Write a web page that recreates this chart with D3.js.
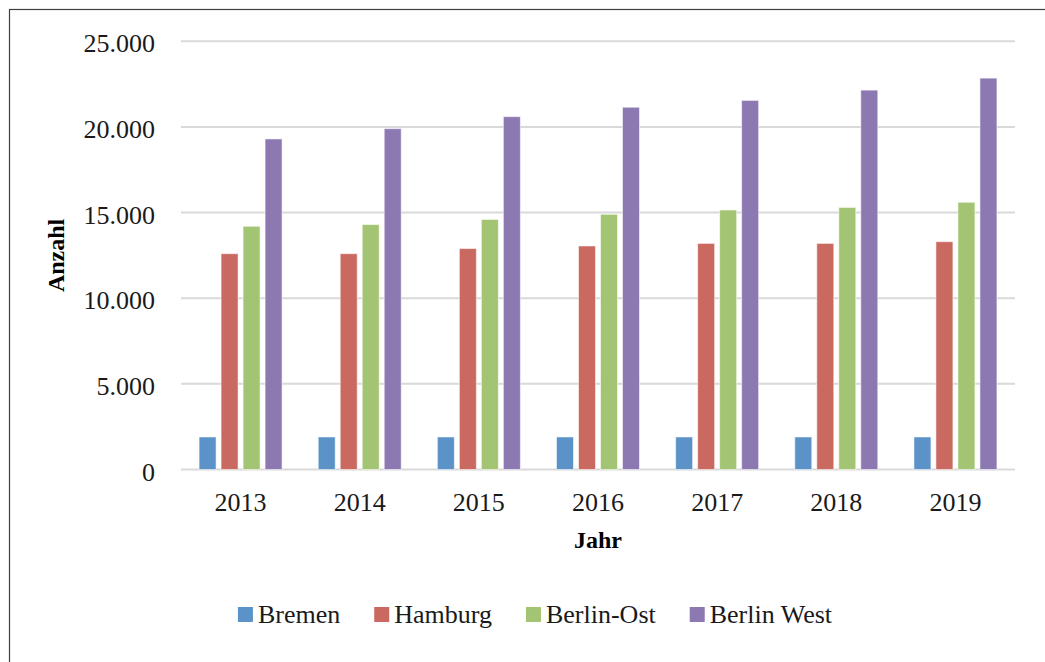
<!DOCTYPE html>
<html lang="de">
<head>
<meta charset="utf-8">
<title>Anzahl nach Jahr</title>
<script src="https://cdn.jsdelivr.net/npm/d3@7"></script>
<style>
  html, body { margin: 0; padding: 0; background: #fff; }
  svg { display: block; font-family: "Liberation Serif", "Times New Roman", serif; }
</style>
</head>
<body>
<svg id="chart" width="1045" height="662"></svg>
<script>
// Jahre auf der x-Achse
const years = ["2013", "2014", "2015", "2016", "2017", "2018", "2019"];
// Reihen
const seriesNames = ["Bremen", "Hamburg", "Berlin-Ost", "Berlin West"];
const bremen     = [1900, 1900, 1900, 1900, 1900, 1900, 1900];
const hamburg    = [12600, 12600, 12900, 13050, 13200, 13200, 13300];
const berlinOst  = [14200, 14300, 14600, 14900, 15150, 15300, 15600];
const berlinWest = [19300, 19900, 20600, 21150, 21550, 22150, 22850];
// Beschriftung der y-Achse
const yTicks = [0, 5000, 10000, 15000, 20000, 25000];
const yTickLabels = ["0", "5.000", "10.000", "15.000", "20.000", "25.000"];
const seriesColors = ["#5b93c8", "#c9695f", "#a3c472", "#8c79b2"];

const seriesValues = [bremen, hamburg, berlinOst, berlinWest];
const rows = years.map((yr, i) => ({
  year: yr,
  values: seriesNames.map((name, s) => ({ name, value: seriesValues[s][i] }))
}));

const svg = d3.select("#chart");

// Rahmen des Diagrammbereichs
svg.append("rect")
  .attr("x", 9.5).attr("y", 9.5)
  .attr("width", 1100).attr("height", 700)
  .attr("fill", "none")
  .attr("stroke", "#404040")
  .attr("stroke-width", 1.2);

const plot = { left: 181, right: 1015, top: 41.3, bottom: 469.5 };

const y = d3.scaleLinear().domain([0, 25000]).range([plot.bottom, plot.top]);
const x0 = d3.scaleBand().domain(years).range([plot.left, plot.right]).padding(0);
const groupWidth = 88;
const x1 = d3.scaleBand().domain(seriesNames).range([0, groupWidth])
  .paddingInner(5 / 22).paddingOuter(2.5 / 22);
const color = d3.scaleOrdinal().domain(seriesNames).range(seriesColors);

// Gitterlinien
svg.append("g")
  .selectAll("line")
  .data(yTicks)
  .join("line")
  .attr("x1", plot.left).attr("x2", plot.right)
  .attr("y1", d => y(d)).attr("y2", d => y(d))
  .attr("stroke", "#d9d9d9")
  .attr("stroke-width", 2);

// y-Achse (Beschriftung)
const yAxis = d3.axisLeft(y).tickValues(yTicks)
  .tickFormat((d, i) => yTickLabels[i]).tickSize(0).tickPadding(0);
const gy = svg.append("g").attr("transform", "translate(155,0)").call(yAxis);
gy.select(".domain").remove();
gy.selectAll("text")
  .attr("font-family", "Liberation Serif, serif")
  .attr("font-size", 26)
  .attr("fill", "#1a1a1a")
  .attr("dy", 10.5);

// x-Achse (Beschriftung)
const xAxis = d3.axisBottom(x0).tickSize(0).tickPadding(0);
const gx = svg.append("g").attr("transform", `translate(0,${plot.bottom})`).call(xAxis);
gx.select(".domain").remove();
gx.selectAll("text")
  .attr("font-family", "Liberation Serif, serif")
  .attr("font-size", 26)
  .attr("fill", "#1a1a1a")
  .attr("y", 41.5)
  .attr("dy", 0);

// Balken
const groups = svg.append("g")
  .selectAll("g")
  .data(rows)
  .join("g")
  .attr("transform", d => `translate(${x0(d.year) + (x0.bandwidth() - groupWidth) / 2},0)`);

groups.selectAll("rect")
  .data(d => d.values)
  .join("rect")
  .attr("x", d => x1(d.name))
  .attr("width", x1.bandwidth())
  .attr("y", d => y(d.value))
  .attr("height", d => y(0) - y(d.value))
  .attr("fill", d => color(d.name))
  .attr("stroke", "rgba(255,255,255,0.55)")
  .attr("stroke-width", 1);

// Achsentitel
svg.append("text")
  .attr("transform", `translate(64,${(plot.top + plot.bottom) / 2}) rotate(-90)`)
  .attr("text-anchor", "middle")
  .attr("font-size", 24)
  .attr("font-weight", "bold")
  .attr("fill", "#000")
  .text("Anzahl");

svg.append("text")
  .attr("x", (plot.left + plot.right) / 2)
  .attr("y", 548)
  .attr("text-anchor", "middle")
  .attr("font-size", 24)
  .attr("font-weight", "bold")
  .attr("fill", "#000")
  .text("Jahr");

// Legende
const legend = svg.append("g");
const items = legend.selectAll("g")
  .data(seriesNames)
  .join("g");
items.append("rect")
  .attr("width", 15).attr("height", 15)
  .attr("y", 607)
  .attr("fill", d => color(d));
items.append("text")
  .attr("x", 20)
  .attr("y", 623)
  .attr("font-size", 26)
  .attr("fill", "#1a1a1a")
  .text(d => d);

const widths = [];
items.each(function () {
  widths.push(20 + d3.select(this).select("text").node().getComputedTextLength());
});
const gap = 34;
const total = d3.sum(widths) + gap * (widths.length - 1);
const legendCenter = 535;
let cursor = legendCenter - total / 2;
items.attr("transform", (d, i) => {
  const tx = cursor;
  cursor += widths[i] + gap;
  return `translate(${tx},0)`;
});
</script>
</body>
</html>
